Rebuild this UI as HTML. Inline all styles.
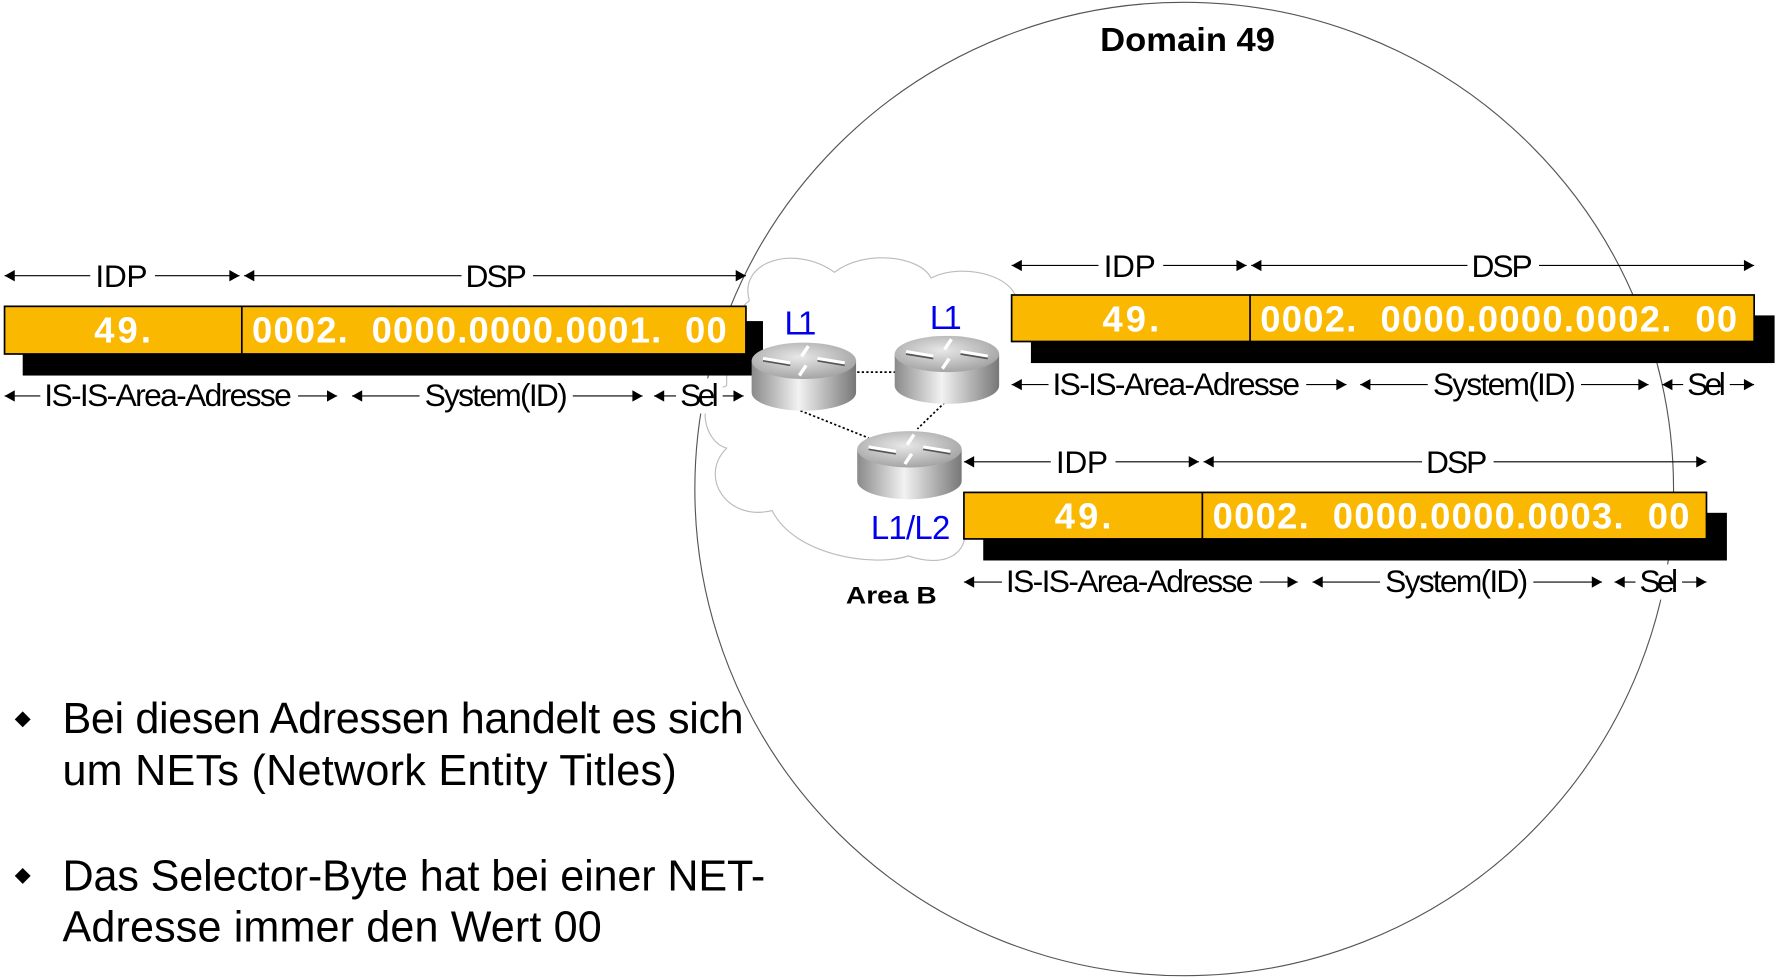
<!DOCTYPE html>
<html><head><meta charset="utf-8"><style>html,body{margin:0;padding:0;background:#fff}svg{display:block}</style></head><body>
<svg width="1778" height="978" viewBox="0 0 1566 862" preserveAspectRatio="none" xmlns="http://www.w3.org/2000/svg" font-family="'Liberation Sans', sans-serif">
<defs>
<linearGradient id="cyl" x1="0" x2="1" y1="0" y2="0"><stop offset="0" stop-color="#8a8a8a"/><stop offset="0.45" stop-color="#f2f2f2"/><stop offset="1" stop-color="#777"/></linearGradient>
<radialGradient id="top" cx="0.45" cy="0.4" r="0.7"><stop offset="0" stop-color="#e8e8e8"/><stop offset="1" stop-color="#9a9a9a"/></radialGradient>
<g id="router">
<path d="M-46,0 L-46,28 A46,16 0 0 0 46,28 L46,0 Z" fill="url(#cyl)"/>
<ellipse cx="0" cy="0" rx="46" ry="16" fill="url(#top)"/>
<g stroke="#fff" stroke-width="3" fill="none"><path d="M-36,-2 L-12,2"/><path d="M36,2 L12,-2"/><path d="M4,-13 L-2,-4"/><path d="M-4,13 L2,4"/></g>
<g stroke="#555" stroke-width="1.5" fill="none"><path d="M-36,0 L-12,4"/><path d="M36,4 L12,0"/></g>
</g>
</defs>
<ellipse cx="1043" cy="431" rx="431" ry="429" fill="none" stroke="#555" stroke-width="1"/>
<text x="1046" y="45" font-size="29" font-weight="bold" text-anchor="middle" textLength="154" lengthAdjust="spacingAndGlyphs">Domain 49</text>
<path d="M660,265 C650,230 700,215 735,240 C760,220 810,225 820,245 C850,230 900,245 895,270 L895,300 M640,340 C610,350 620,390 640,395 C615,420 640,460 680,450 C700,490 770,500 800,490 C830,500 850,490 850,470" fill="none" stroke="#bbb" stroke-width="1"/>
<path d="M660,265 C640,280 640,320 640,340" fill="none" stroke="#bbb" stroke-width="1"/>
<!-- boxes -->
<rect x="20" y="283" width="652" height="48" fill="#000"/>
<rect x="4" y="270" width="653" height="42" fill="#fbb800" stroke="#000" stroke-width="1.5"/>
<line x1="213" y1="270" x2="213" y2="312" stroke="#000" stroke-width="1.5"/>
<g font-size="32" font-weight="bold" fill="#fff" lengthAdjust="spacingAndGlyphs">
<text x="83" y="302" textLength="50">49.</text>
<text x="222" y="302" textLength="418" xml:space="preserve">0002.  0000.0000.0001.  00</text>
</g>
<rect x="908" y="278" width="655" height="42" fill="#000"/>
<rect x="891" y="260" width="654" height="41" fill="#fbb800" stroke="#000" stroke-width="1.5"/>
<line x1="1101" y1="260" x2="1101" y2="301" stroke="#000" stroke-width="1.5"/>
<g font-size="32" font-weight="bold" fill="#fff" lengthAdjust="spacingAndGlyphs">
<text x="971" y="292" textLength="50">49.</text>
<text x="1110" y="292" textLength="420" xml:space="preserve">0002.  0000.0000.0002.  00</text>
</g>
<rect x="866" y="452" width="655" height="42" fill="#000"/>
<rect x="849" y="434" width="654" height="41" fill="#fbb800" stroke="#000" stroke-width="1.5"/>
<line x1="1059" y1="434" x2="1059" y2="475" stroke="#000" stroke-width="1.5"/>
<g font-size="32" font-weight="bold" fill="#fff" lengthAdjust="spacingAndGlyphs">
<text x="929" y="466" textLength="50">49.</text>
<text x="1068" y="466" textLength="420" xml:space="preserve">0002.  0000.0000.0003.  00</text>
</g>
<!-- dimension arrows -->
<g stroke="#000" stroke-width="1">
<line x1="4" y1="243" x2="211" y2="243"/><line x1="215" y1="243" x2="657" y2="243"/>
<line x1="4" y1="349" x2="297" y2="349"/><line x1="310" y1="349" x2="566" y2="349"/><line x1="576" y1="349" x2="655" y2="349"/>
<line x1="891" y1="234" x2="1098" y2="234"/><line x1="1102" y1="234" x2="1545" y2="234"/>
<line x1="891" y1="339" x2="1186" y2="339"/><line x1="1198" y1="339" x2="1452" y2="339"/><line x1="1464" y1="339" x2="1545" y2="339"/>
<line x1="849" y1="407" x2="1056" y2="407"/><line x1="1060" y1="407" x2="1503" y2="407"/>
<line x1="849" y1="513" x2="1143" y2="513"/><line x1="1156" y1="513" x2="1411" y2="513"/><line x1="1422" y1="513" x2="1503" y2="513"/>
</g>
<g fill="#000">
<polygon points="4,243 13,238 13,248"/><polygon points="211,243 202,238 202,248"/><polygon points="215,243 224,238 224,248"/><polygon points="657,243 648,238 648,248"/>
<polygon points="4,349 13,344 13,354"/><polygon points="297,349 288,344 288,354"/><polygon points="310,349 319,344 319,354"/><polygon points="566,349 557,344 557,354"/><polygon points="576,349 585,344 585,354"/><polygon points="655,349 646,344 646,354"/>
<polygon points="891,234 900,229 900,239"/><polygon points="1098,234 1089,229 1089,239"/><polygon points="1102,234 1111,229 1111,239"/><polygon points="1545,234 1536,229 1536,239"/>
<polygon points="891,339 900,334 900,344"/><polygon points="1186,339 1177,334 1177,344"/><polygon points="1198,339 1207,334 1207,344"/><polygon points="1452,339 1443,334 1443,344"/><polygon points="1464,339 1473,334 1473,344"/><polygon points="1545,339 1536,334 1536,344"/>
<polygon points="849,407 858,402 858,412"/><polygon points="1056,407 1047,402 1047,412"/><polygon points="1060,407 1069,402 1069,412"/><polygon points="1503,407 1494,402 1494,412"/>
<polygon points="849,513 858,508 858,518"/><polygon points="1143,513 1134,508 1134,518"/><polygon points="1156,513 1165,508 1165,518"/><polygon points="1411,513 1402,508 1402,518"/><polygon points="1422,513 1431,508 1431,518"/><polygon points="1503,513 1494,508 1494,518"/>
</g>
<g font-size="28" fill="#fff" stroke="#fff" stroke-width="5" lengthAdjust="spacingAndGlyphs">
<rect x="82" y="230" width="52" height="26"/><rect x="409" y="230" width="58" height="26"/>
<rect x="38" y="336" width="222" height="26"/><rect x="372" y="336" width="130" height="26"/><rect x="598" y="336" width="36" height="26"/>
<rect x="970" y="221" width="52" height="26"/><rect x="1295" y="221" width="58" height="26"/>
<rect x="926" y="326" width="222" height="26"/><rect x="1260" y="326" width="130" height="26"/><rect x="1485" y="326" width="36" height="26"/>
<rect x="928" y="394" width="52" height="26"/><rect x="1255" y="394" width="58" height="26"/>
<rect x="885" y="500" width="222" height="26"/><rect x="1218" y="500" width="130" height="26"/><rect x="1443" y="500" width="36" height="26"/>
</g>
<g font-size="28" text-anchor="middle" fill="#000" lengthAdjust="spacingAndGlyphs">
<text x="107" y="253" textLength="46">IDP</text><text x="437" y="253" textLength="54">DSP</text>
<text x="148" y="358" textLength="218">IS-IS-Area-Adresse</text><text x="437" y="358" textLength="126">System(ID)</text><text x="616" y="358" textLength="34">Sel</text>
<text x="995" y="244" textLength="46">IDP</text><text x="1323" y="244" textLength="54">DSP</text>
<text x="1036" y="348" textLength="218">IS-IS-Area-Adresse</text><text x="1325" y="348" textLength="126">System(ID)</text><text x="1503" y="348" textLength="34">Sel</text>
<text x="953" y="417" textLength="46">IDP</text><text x="1283" y="417" textLength="54">DSP</text>
<text x="995" y="522" textLength="218">IS-IS-Area-Adresse</text><text x="1283" y="522" textLength="126">System(ID)</text><text x="1461" y="522" textLength="34">Sel</text>
</g>
<!-- routers -->
<g stroke="#000" stroke-width="1.5" stroke-dasharray="2,2">
<line x1="755" y1="328" x2="790" y2="328"/><line x1="705" y1="362" x2="765" y2="386"/><line x1="835" y1="352" x2="808" y2="378"/>
</g>
<use href="#router" x="708" y="318"/>
<use href="#router" x="834" y="312"/>
<use href="#router" x="801" y="396"/>
<g fill="#0000ee" font-size="29" text-anchor="middle" lengthAdjust="spacingAndGlyphs">
<text x="705" y="295" textLength="28">L1</text><text x="833" y="290" textLength="28">L1</text><text x="802" y="475" textLength="70">L1/L2</text>
</g>
<text x="785" y="532" font-size="21" font-weight="bold" text-anchor="middle" textLength="80" lengthAdjust="spacingAndGlyphs">Area B</text>
<!-- bullets -->
<polygon points="20,627 27,634 20,641 13,634" fill="#000"/>
<polygon points="20,765 27,772 20,779 13,772" fill="#000"/>
<g font-size="38" fill="#000" lengthAdjust="spacingAndGlyphs">
<text x="55" y="646" textLength="600">Bei diesen Adressen handelt es sich</text>
<text x="55" y="692" textLength="541">um NETs (Network Entity Titles)</text>
<text x="55" y="785" textLength="619">Das Selector-Byte hat bei einer NET-</text>
<text x="55" y="830" textLength="475">Adresse immer den Wert 00</text>
</g>
</svg>
</body></html>
